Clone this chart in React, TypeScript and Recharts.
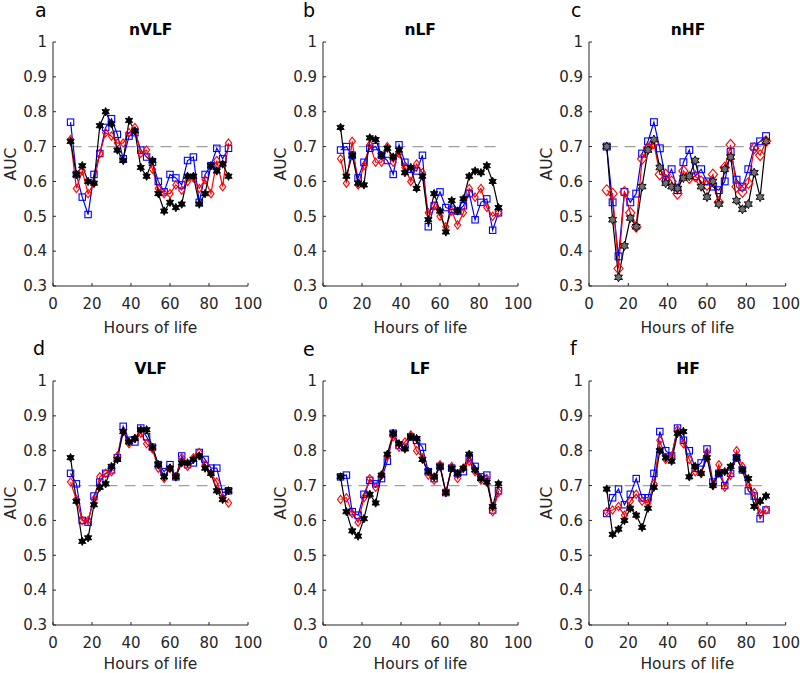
import React from "react";
import { LineChart, Line, XAxis, YAxis, ReferenceLine } from "recharts";

// hours of life at which AUC was evaluated
const hours = [9, 12, 15, 18, 21, 24, 27, 30, 33, 36, 39, 42, 45, 48, 51, 54, 57, 60, 63, 66, 69, 72, 75, 78, 81, 84, 87, 90];

const nvlfBlue = [0.77, 0.62, 0.555, 0.505, 0.62, 0.68, 0.755, 0.78, 0.735, 0.665, 0.73, 0.74, 0.69, 0.67, 0.655, 0.6, 0.57, 0.62, 0.61, 0.59, 0.66, 0.67, 0.54, 0.62, 0.645, 0.695, 0.665, 0.695];
const nvlfRed = [0.72, 0.58, 0.63, 0.565, 0.595, 0.68, 0.74, 0.73, 0.71, 0.71, 0.74, 0.755, 0.68, 0.69, 0.635, 0.58, 0.565, 0.565, 0.59, 0.575, 0.6, 0.61, 0.58, 0.605, 0.565, 0.66, 0.585, 0.71];
const nvlfBlack = [0.715, 0.62, 0.645, 0.6, 0.595, 0.76, 0.8, 0.765, 0.69, 0.66, 0.775, 0.745, 0.64, 0.615, 0.66, 0.565, 0.515, 0.54, 0.525, 0.535, 0.615, 0.615, 0.535, 0.565, 0.645, 0.63, 0.65, 0.615];

const nlfBlue = [0.69, 0.7, 0.675, 0.61, 0.655, 0.695, 0.7, 0.675, 0.66, 0.62, 0.705, 0.655, 0.635, 0.63, 0.675, 0.47, 0.53, 0.57, 0.525, 0.52, 0.515, 0.53, 0.565, 0.49, 0.54, 0.55, 0.46, 0.51];
const nlfRed = [0.665, 0.595, 0.715, 0.59, 0.645, 0.705, 0.655, 0.655, 0.7, 0.655, 0.68, 0.64, 0.6, 0.65, 0.625, 0.51, 0.53, 0.5, 0.47, 0.515, 0.475, 0.51, 0.58, 0.555, 0.58, 0.525, 0.5, 0.51];
const nlfBlack = [0.755, 0.615, 0.675, 0.595, 0.59, 0.725, 0.72, 0.675, 0.695, 0.67, 0.69, 0.625, 0.64, 0.58, 0.615, 0.49, 0.565, 0.515, 0.455, 0.545, 0.515, 0.55, 0.615, 0.63, 0.625, 0.645, 0.6, 0.525];

const nhfBlue = [0.7, 0.54, 0.385, 0.57, 0.54, 0.565, 0.68, 0.715, 0.77, 0.695, 0.605, 0.635, 0.575, 0.655, 0.69, 0.615, 0.635, 0.6, 0.585, 0.575, 0.6, 0.685, 0.605, 0.585, 0.635, 0.7, 0.715, 0.73];
const nhfRed = [0.575, 0.565, 0.35, 0.57, 0.51, 0.47, 0.665, 0.695, 0.71, 0.62, 0.62, 0.6, 0.565, 0.63, 0.61, 0.615, 0.6, 0.59, 0.62, 0.54, 0.64, 0.705, 0.585, 0.57, 0.595, 0.695, 0.675, 0.715];
const nhfBlack = [0.7, 0.49, 0.325, 0.415, 0.495, 0.47, 0.585, 0.69, 0.72, 0.64, 0.595, 0.585, 0.58, 0.61, 0.615, 0.66, 0.585, 0.555, 0.6, 0.535, 0.635, 0.67, 0.545, 0.52, 0.535, 0.625, 0.555, 0.715];

const vlfBlue = [0.735, 0.705, 0.6, 0.595, 0.67, 0.71, 0.735, 0.745, 0.78, 0.87, 0.83, 0.825, 0.865, 0.84, 0.81, 0.76, 0.74, 0.76, 0.725, 0.785, 0.76, 0.765, 0.795, 0.775, 0.75, 0.75, 0.68, 0.685];
const vlfRed = [0.71, 0.66, 0.6, 0.6, 0.66, 0.725, 0.735, 0.74, 0.785, 0.855, 0.82, 0.835, 0.85, 0.82, 0.805, 0.75, 0.72, 0.75, 0.725, 0.78, 0.755, 0.78, 0.795, 0.76, 0.735, 0.71, 0.665, 0.65];
const vlfBlack = [0.78, 0.655, 0.54, 0.55, 0.645, 0.695, 0.705, 0.755, 0.775, 0.855, 0.825, 0.835, 0.86, 0.86, 0.81, 0.76, 0.725, 0.75, 0.725, 0.765, 0.765, 0.775, 0.785, 0.75, 0.735, 0.685, 0.66, 0.685];

const lfBlue = [0.725, 0.73, 0.625, 0.615, 0.675, 0.715, 0.705, 0.72, 0.77, 0.85, 0.815, 0.81, 0.84, 0.83, 0.81, 0.74, 0.72, 0.755, 0.68, 0.75, 0.735, 0.74, 0.78, 0.755, 0.725, 0.73, 0.63, 0.685];
const lfRed = [0.66, 0.665, 0.62, 0.595, 0.665, 0.72, 0.695, 0.73, 0.785, 0.84, 0.81, 0.825, 0.845, 0.8, 0.78, 0.73, 0.715, 0.76, 0.68, 0.755, 0.72, 0.75, 0.77, 0.74, 0.715, 0.72, 0.625, 0.68];
const lfBlack = [0.725, 0.625, 0.57, 0.555, 0.605, 0.675, 0.65, 0.73, 0.79, 0.85, 0.82, 0.805, 0.84, 0.835, 0.775, 0.74, 0.725, 0.755, 0.68, 0.75, 0.735, 0.75, 0.79, 0.745, 0.72, 0.71, 0.64, 0.705];

const hfBlue = [0.62, 0.665, 0.69, 0.645, 0.675, 0.72, 0.665, 0.665, 0.735, 0.855, 0.8, 0.785, 0.865, 0.83, 0.8, 0.75, 0.765, 0.805, 0.71, 0.735, 0.7, 0.735, 0.78, 0.745, 0.685, 0.67, 0.605, 0.63];
const hfRed = [0.625, 0.63, 0.64, 0.615, 0.655, 0.675, 0.655, 0.65, 0.705, 0.83, 0.775, 0.785, 0.86, 0.82, 0.775, 0.74, 0.735, 0.795, 0.7, 0.76, 0.695, 0.73, 0.8, 0.755, 0.7, 0.68, 0.62, 0.63];
const hfBlack = [0.69, 0.56, 0.575, 0.6, 0.635, 0.615, 0.58, 0.635, 0.695, 0.8, 0.78, 0.77, 0.85, 0.855, 0.725, 0.755, 0.735, 0.78, 0.7, 0.735, 0.74, 0.755, 0.78, 0.745, 0.72, 0.64, 0.655, 0.67];

const xTicks = [0, 20, 40, 60, 80, 100];
const yTicks = [0.3, 0.4, 0.5, 0.6, 0.7, 0.8, 0.9, 1];

const AXIS = "#262626";
const FONT = "'DejaVu Sans', sans-serif";

function makeSquare(half: number) {
  return (props: any) => {
    const { cx, cy, index } = props;
    if (cx == null || cy == null) return null;
    return (
      <rect
        key={`sq-${index}`}
        x={cx - half}
        y={cy - half}
        width={half * 2}
        height={half * 2}
        fill="none"
        stroke="#0000ff"
        strokeWidth={1.1}
      />
    );
  };
}

function makeDiamond(w: number, h: number) {
  return (props: any) => {
    const { cx, cy, index } = props;
    if (cx == null || cy == null) return null;
    return (
      <path
        key={`dm-${index}`}
        d={`M${cx},${cy - h} L${cx + w},${cy} L${cx},${cy + h} L${cx - w},${cy} Z`}
        fill="none"
        stroke="#ff0000"
        strokeWidth={1.1}
      />
    );
  };
}

function makeHexagram(outer: number, fill: string) {
  return (props: any) => {
    const { cx, cy, index } = props;
    if (cx == null || cy == null) return null;
    const pts: string[] = [];
    for (let i = 0; i < 12; i++) {
      const r = i % 2 === 0 ? outer : outer * 0.55;
      const a = (Math.PI / 6) * i - Math.PI / 2;
      pts.push(`${cx + r * Math.cos(a)},${cy + r * Math.sin(a)}`);
    }
    return <polygon key={`hx-${index}`} points={pts.join(" ")} fill={fill} stroke="#000" strokeWidth={0.9} />;
  };
}

const smallMarks = { sq: makeSquare(3.2), dm: makeDiamond(3.1, 4.1), hx: makeHexagram(4.2, "#000") };
const bigMarks = { sq: makeSquare(3.4), dm: makeDiamond(4.6, 5.4), hx: makeHexagram(4.6, "#707070") };

type PanelProps = {
  left: number;
  top: number;
  plotWidth: number;
  blue: number[];
  red: number[];
  black: number[];
  big?: boolean;
  labelOffset?: number;
};

function Panel({ left, top, plotWidth, blue, red, black, big, labelOffset = 2 }: PanelProps) {
  const data = hours.map((h, i) => ({ h, blue: blue[i], red: red[i], black: black[i] }));
  const tickStyle = { fill: AXIS, fontSize: 15, fontFamily: FONT };
  const marks = big ? bigMarks : smallMarks;

  return (
    <div style={{ position: "absolute", left, top }}>
      <LineChart
        width={270}
        height={345}
        data={data}
        margin={{ top: 42, right: 270 - 53 - plotWidth, bottom: 10, left: 3 }}
      >
        <XAxis
          type="number"
          dataKey="h"
          domain={[0, 100]}
          ticks={xTicks}
          height={49}
          axisLine={{ stroke: AXIS }}
          tickLine={{ stroke: AXIS }}
          tickSize={-3}
          tickMargin={15}
          tick={tickStyle}
          label={{
            value: "Hours of life",
            position: "insideBottom",
            offset: labelOffset,
            style: { fill: AXIS, fontSize: 15.5, fontFamily: FONT },
          }}
        />
        <YAxis
          type="number"
          domain={[0.3, 1]}
          ticks={yTicks}
          width={50}
          axisLine={{ stroke: AXIS }}
          tickLine={{ stroke: AXIS }}
          tickSize={-3}
          tickMargin={9}
          tick={tickStyle}
          label={{
            value: "AUC",
            angle: -90,
            position: "insideLeft",
            offset: 7,
            style: { fill: AXIS, fontSize: 15.5, fontFamily: FONT, textAnchor: "middle" },
          }}
        />
        <ReferenceLine
          segment={[
            { x: 9, y: 0.7 },
            { x: 90, y: 0.7 },
          ]}
          stroke="#a0a0a0"
          strokeWidth={1.2}
          strokeDasharray="11 7"
        />
        <Line dataKey="blue" stroke="#0000ff" strokeWidth={1.2} dot={marks.sq} activeDot={false} isAnimationActive={false} />
        <Line dataKey="red" stroke="#ff0000" strokeWidth={1.2} dot={marks.dm} activeDot={false} isAnimationActive={false} />
        <Line dataKey="black" stroke="#000000" strokeWidth={1.2} dot={marks.hx} activeDot={false} isAnimationActive={false} />
      </LineChart>
    </div>
  );
}

const letters = [
  { t: "a", x: 35, y: 17 },
  { t: "b", x: 303, y: 17 },
  { t: "c", x: 571, y: 17 },
  { t: "d", x: 33, y: 355 },
  { t: "e", x: 303, y: 356 },
  { t: "f", x: 570, y: 355 },
];

const titles = [
  { t: "nVLF", x: 150.7, y: 35 },
  { t: "nLF", x: 420.2, y: 35 },
  { t: "nHF", x: 688, y: 35 },
  { t: "VLF", x: 150.7, y: 374 },
  { t: "LF", x: 420.2, y: 374 },
  { t: "HF", x: 688, y: 374 },
];

export default function App() {
  return (
    <div style={{ position: "absolute", left: 0, top: 0, width: 800, height: 673, background: "#fff", overflow: "hidden" }}>
      <Panel left={0} top={0} plotWidth={195} blue={nvlfBlue} red={nvlfRed} black={nvlfBlack} />
      <Panel left={269.7} top={0} plotWidth={195} blue={nlfBlue} red={nlfRed} black={nlfBlack} />
      <Panel left={536.3} top={0} plotWidth={196.7} blue={nhfBlue} red={nhfRed} black={nhfBlack} big />
      <Panel left={0} top={338.7} plotWidth={195} blue={vlfBlue} red={vlfRed} black={vlfBlack} labelOffset={5} />
      <Panel left={269.7} top={338.7} plotWidth={195} blue={lfBlue} red={lfRed} black={lfBlack} labelOffset={5} />
      <Panel left={536.3} top={338.7} plotWidth={196.7} blue={hfBlue} red={hfRed} black={hfBlack} labelOffset={5} />
      <svg width={800} height={673} style={{ position: "absolute", left: 0, top: 0, pointerEvents: "none" }}>
        {letters.map((l) => (
          <text key={l.t} x={l.x} y={l.y} fontSize={19} fontFamily={FONT} fill="#000">
            {l.t}
          </text>
        ))}
        {titles.map((t) => (
          <text key={t.t} x={t.x} y={t.y} fontSize={15.5} fontWeight="bold" fontFamily={FONT} fill="#000" textAnchor="middle">
            {t.t}
          </text>
        ))}
      </svg>
    </div>
  );
}
